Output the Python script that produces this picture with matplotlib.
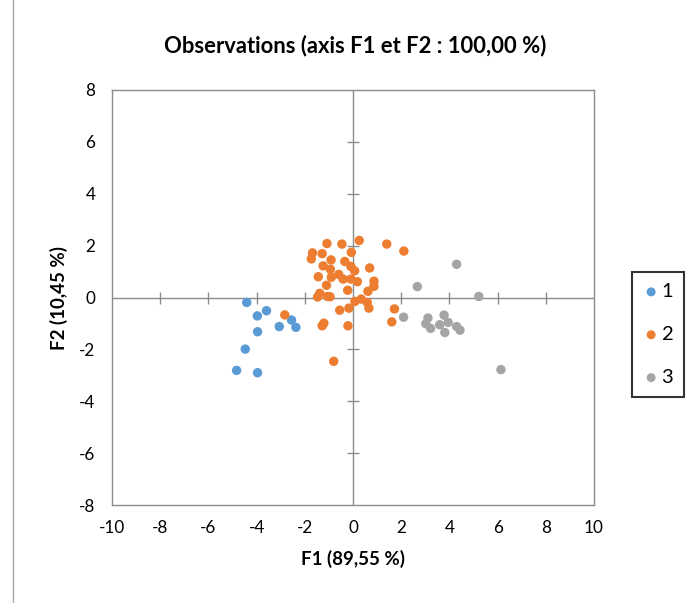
import matplotlib
matplotlib.use("Agg")
import matplotlib.pyplot as plt
from matplotlib.lines import Line2D

plt.rcParams['font.family'] = ['Lato', 'DejaVu Sans']

# Class 1 (blue)
f1_c1 = [-4.41, -3.59, -3.97, -3.96, -3.06, -2.55, -2.37, -4.47, -4.83, -3.96]
f2_c1 = [-0.19, -0.51, -0.71, -1.32, -1.12, -0.87, -1.15, -1.99, -2.81, -2.90]

# Class 2 (orange)
f1_c2 = [-1.08, -0.46, 0.26, 1.40, 2.11, -1.68, -1.28, -1.73, -0.07, -0.91,
         -0.34, -1.24, -0.94, -0.09, 0.07, 0.69, -1.44, -0.90, -0.59, -0.41,
         -0.09, 0.18, 0.87, 0.87, -1.10, -0.22, 0.62, -1.38, -1.47, -1.06,
         -0.95, 0.08, 0.34, 0.59, 0.66, -0.17, -0.55, -2.83, 1.72, 1.61,
         -1.21, -1.28, -0.21, -0.80]
f2_c2 = [2.08, 2.06, 2.20, 2.06, 1.79, 1.72, 1.69, 1.49, 1.74, 1.45,
         1.39, 1.22, 1.09, 1.20, 1.03, 1.14, 0.80, 0.78, 0.89, 0.71,
         0.71, 0.61, 0.63, 0.43, 0.47, 0.28, 0.24, 0.16, 0.02, 0.04,
         0.03, -0.15, -0.06, -0.19, -0.41, -0.41, -0.49, -0.67, -0.44, -0.94,
         -0.99, -1.09, -1.09, -2.46]

# Class 3 (gray)
f1_c3 = [4.30, 2.67, 5.22, 2.10, 3.11, 3.78, 3.02, 3.22, 3.60, 3.95,
         4.30, 4.44, 3.81, 6.14]
f2_c3 = [1.28, 0.42, 0.04, -0.76, -0.79, -0.68, -1.01, -1.19, -1.05, -0.96,
         -1.12, -1.26, -1.35, -2.78]

x_ticks = [-10, -8, -6, -4, -2, 0, 2, 4, 6, 8, 10]
y_ticks = [-8, -6, -4, -2, 0, 2, 4, 6, 8]
class_labels = ['1', '2', '3']
colors = ['#5B9BD5', '#ED7D31', '#A5A5A5']

W, H = 686, 603
fig = plt.figure(figsize=(W / 100, H / 100), dpi=100)
ax = fig.add_axes([112 / W, 1 - 505 / H, (594 - 112) / W, (505 - 90) / H])

axis_col = '#8C8C8C'
ax.axhline(0, color=axis_col, lw=1.0, zorder=1)
ax.axvline(0, color=axis_col, lw=1.0, zorder=1)
inner_x = [t for t in x_ticks if t not in (x_ticks[0], x_ticks[-1], 0)]
inner_y = [t for t in y_ticks if t not in (y_ticks[0], y_ticks[-1], 0)]
ax.plot(inner_x, [0] * len(inner_x), ls='none', marker='|', ms=8, mew=1.0,
        color=axis_col, zorder=1)
ax.plot([0] * len(inner_y), inner_y, ls='none', marker='_', ms=8, mew=1.0,
        color=axis_col, zorder=1)

handles = []
for xs, ys, c, lab in zip([f1_c1, f1_c2, f1_c3], [f2_c1, f2_c2, f2_c3], colors, class_labels):
    h = ax.scatter(xs, ys, s=46, color=c, edgecolors='none', zorder=3, label=lab)
    handles.append(h)

ax.set_xlim(x_ticks[0], x_ticks[-1])
ax.set_ylim(y_ticks[0], y_ticks[-1])
ax.set_xticks(x_ticks)
ax.set_yticks(y_ticks)
ax.set_xticklabels([str(t) for t in x_ticks])
ax.set_yticklabels([str(t) for t in y_ticks])
ax.tick_params(axis='x', length=0, labelsize=12.3, colors='black', pad=11)
ax.tick_params(axis='y', length=0, labelsize=12.3, colors='black', pad=12)
for s in ax.spines.values():
    s.set_color(axis_col)
    s.set_linewidth(1.0)

ax.set_xlabel('F1 (89,55 %)', fontsize=13.5, fontweight='bold', labelpad=10)
ax.set_ylabel('F2 (10,45 %)', fontsize=13.5, fontweight='bold', labelpad=8)
fig.text(355 / W, 1 - 46 / H, 'Observations (axis F1 et F2 : 100,00 %)',
         ha='center', va='center', fontsize=15.8, fontweight='bold')

leg = fig.legend(handles=handles, labels=class_labels, loc='upper left',
                 bbox_to_anchor=(632 / W, 1 - 272 / H), borderaxespad=0,
                 fontsize=14.5, frameon=True, fancybox=False, edgecolor='black',
                 labelspacing=1.28, handletextpad=0.12, handlelength=0.8,
                 borderpad=0.55, scatterpoints=1, markerscale=0.95)
leg.get_frame().set_linewidth(1.5)

fig.add_artist(Line2D([13 / W, 13 / W], [0, 1], color='#A6A6A6', lw=1.0))

fig.savefig('out.png', dpi=100)
